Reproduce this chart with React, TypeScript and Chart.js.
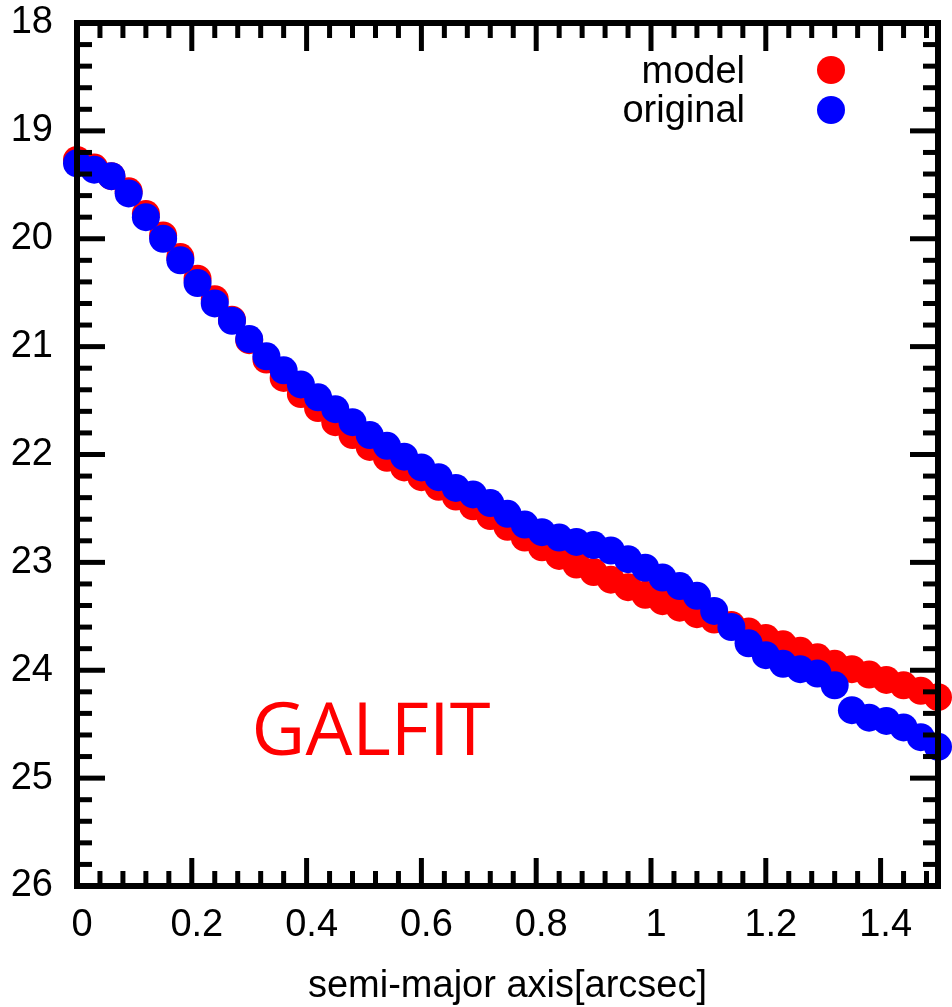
import React, { useEffect, useRef } from 'react';
import { Chart, registerables } from 'chart.js';

Chart.register(...registerables);

// semi-major axis [arcsec]
const xValues = [
  0, 0.03, 0.06, 0.09, 0.12, 0.15, 0.18, 0.21, 0.24, 0.27,
  0.30, 0.33, 0.36, 0.39, 0.42, 0.45, 0.48, 0.51, 0.54, 0.57,
  0.60, 0.63, 0.66, 0.69, 0.72, 0.75, 0.78, 0.81, 0.84, 0.87,
  0.90, 0.93, 0.96, 0.99, 1.02, 1.05, 1.08, 1.11, 1.14, 1.17,
  1.20, 1.23, 1.26, 1.29, 1.32, 1.35, 1.38, 1.41, 1.44, 1.47, 1.50,
];

const modelValues = [
  19.27, 19.34, 19.42, 19.56, 19.77, 19.97, 20.17, 20.37, 20.56, 20.75,
  20.94, 21.12, 21.29, 21.44, 21.57, 21.70, 21.82, 21.93, 22.03, 22.12,
  22.21, 22.30, 22.39, 22.48, 22.57, 22.67, 22.77, 22.86, 22.94, 23.02,
  23.09, 23.16, 23.23, 23.30, 23.36, 23.42, 23.48, 23.53, 23.58, 23.64,
  23.70, 23.76, 23.82, 23.88, 23.94, 23.99, 24.04, 24.09, 24.14, 24.19, 24.25,
];

const originalValues = [
  19.30, 19.36, 19.42, 19.58, 19.80, 20.00, 20.20, 20.41, 20.60, 20.76,
  20.93, 21.09, 21.22, 21.35, 21.47, 21.58, 21.70, 21.82, 21.92, 22.02,
  22.12, 22.21, 22.31, 22.37, 22.45, 22.55, 22.65, 22.72, 22.77, 22.81,
  22.84, 22.89, 22.97, 23.05, 23.14, 23.22, 23.31, 23.45, 23.60, 23.75,
  23.86, 23.94, 23.99, 24.03, 24.14, 24.37, 24.44, 24.47, 24.53, 24.62, 24.71,
];

const xTickValues = [0, 0.2, 0.4, 0.6, 0.8, 1, 1.2, 1.4];
const xMinorTicks = [
  0.04, 0.08, 0.12, 0.16, 0.24, 0.28, 0.32, 0.36, 0.44, 0.48, 0.52, 0.56,
  0.64, 0.68, 0.72, 0.76, 0.84, 0.88, 0.92, 0.96, 1.04, 1.08, 1.12, 1.16,
  1.24, 1.28, 1.32, 1.36, 1.44, 1.48,
];
const yTickValues = [18, 19, 20, 21, 22, 23, 24, 25, 26];
const yMinorTicks = [
  18.2, 18.4, 18.6, 18.8, 19.2, 19.4, 19.6, 19.8, 20.2, 20.4, 20.6, 20.8,
  21.2, 21.4, 21.6, 21.8, 22.2, 22.4, 22.6, 22.8, 23.2, 23.4, 23.6, 23.8,
  24.2, 24.4, 24.6, 24.8, 25.2, 25.4, 25.6, 25.8,
];

const seriesLabels = ['model', 'original'];
const seriesColors = ['#ff0000', '#0000ff'];
const xTitle = 'semi-major axis[arcsec]';
const annotationText = 'GALFIT';

const FONT = '"Liberation Sans", Arial, sans-serif';

const framePlugin = {
  id: 'gnuplotFrame',
  afterDatasetsDraw(chart: any) {
    const { ctx, chartArea, scales } = chart;
    const { left, right, top, bottom } = chartArea;
    const xs = scales.x;
    const ys = scales.y;
    ctx.save();
    ctx.strokeStyle = '#000';
    ctx.lineCap = 'butt';
    ctx.lineWidth = 5;
    const seg = (x1: number, y1: number, x2: number, y2: number) => {
      ctx.beginPath();
      ctx.moveTo(x1, y1);
      ctx.lineTo(x2, y2);
      ctx.stroke();
    };
    const MAJ = 28;
    const MIN = 15;
    xMinorTicks.forEach((v) => {
      const p = xs.getPixelForValue(v);
      seg(p, bottom, p, bottom - MIN);
      seg(p, top, p, top + MIN);
    });
    xTickValues.forEach((v) => {
      const p = xs.getPixelForValue(v);
      seg(p, bottom, p, bottom - MAJ);
      seg(p, top, p, top + MAJ);
    });
    yMinorTicks.forEach((v) => {
      const p = ys.getPixelForValue(v);
      seg(left, p, left + MIN, p);
      seg(right, p, right - MIN, p);
    });
    yTickValues.forEach((v) => {
      const p = ys.getPixelForValue(v);
      seg(left, p, left + MAJ, p);
      seg(right, p, right - MAJ, p);
    });
    ctx.lineWidth = 6;
    ctx.strokeRect(left, top, right - left, bottom - top);

    // legend (gnuplot style: right-aligned text, then marker)
    ctx.font = `38px ${FONT}`;
    ctx.textAlign = 'right';
    ctx.textBaseline = 'alphabetic';
    const legendY = [83, 122];
    const dotY = [70, 110];
    seriesLabels.forEach((lab, i) => {
      ctx.fillStyle = '#000';
      ctx.fillText(lab, 745, legendY[i]);
      ctx.fillStyle = seriesColors[i];
      ctx.beginPath();
      ctx.arc(831, dotY[i], 14, 0, Math.PI * 2);
      ctx.fill();
    });

    // annotation
    ctx.font = `74px "Open Sans", ${FONT}`;
    ctx.fillStyle = '#ff0000';
    ctx.textAlign = 'center';
    ctx.fillText(annotationText, 371, 755);
    ctx.restore();
  },
};

export default function App() {
  const canvasRef = useRef<HTMLCanvasElement | null>(null);

  useEffect(() => {
    const canvas = canvasRef.current;
    if (!canvas) return;
    const chart = new Chart(canvas, {
      type: 'scatter',
      data: {
        datasets: [
          {
            label: seriesLabels[0],
            data: xValues.map((x, i) => ({ x, y: modelValues[i] })),
            backgroundColor: seriesColors[0],
            borderWidth: 0,
            pointRadius: 14,
            pointHoverRadius: 14,
            order: 2,
            clip: false as any,
          },
          {
            label: seriesLabels[1],
            data: xValues.map((x, i) => ({ x, y: originalValues[i] })),
            backgroundColor: seriesColors[1],
            borderWidth: 0,
            pointRadius: 14,
            pointHoverRadius: 14,
            order: 1,
            clip: false as any,
          },
        ],
      },
      options: {
        animation: false,
        responsive: false,
        devicePixelRatio: 1,
        events: [],
        layout: { autoPadding: false, padding: { top: 23, right: 14, left: 0, bottom: 0 } },
        plugins: {
          legend: { display: false },
          tooltip: { enabled: false },
        },
        scales: {
          x: {
            type: 'linear',
            min: 0,
            max: 1.5,
            afterFit: (s: any) => {
              s.height = 121;
              s.paddingLeft = 0;
              s.paddingRight = 0;
              s.paddingTop = 0;
              s.paddingBottom = 0;
            },
            afterBuildTicks: (s: any) => {
              s.ticks = xTickValues.map((v) => ({ value: v }));
            },
            grid: { display: false, drawTicks: false },
            border: { display: false },
            ticks: {
              color: '#000',
              font: { family: FONT, size: 38 },
              padding: 17,
              labelOffset: 5,
              maxRotation: 0,
              autoSkip: false,
              callback: (v: any) => String(v),
            },
            title: {
              display: true,
              text: xTitle,
              color: '#000',
              font: { family: FONT, size: 38 },
              padding: { top: 0, bottom: -2 },
            },
          },
          y: {
            type: 'linear',
            reverse: true,
            min: 18,
            max: 26,
            afterFit: (s: any) => {
              s.width = 77;
              s.paddingLeft = 0;
              s.paddingRight = 0;
              s.paddingTop = 0;
              s.paddingBottom = 0;
            },
            afterBuildTicks: (s: any) => {
              s.ticks = yTickValues.map((v) => ({ value: v }));
            },
            grid: { display: false, drawTicks: false },
            border: { display: false },
            ticks: {
              color: '#000',
              font: { family: FONT, size: 38 },
              padding: 24,
              autoSkip: false,
              callback: (v: any) => String(v),
            },
          },
        },
      },
      plugins: [framePlugin],
    });
    return () => chart.destroy();
  }, []);

  return (
    <div style={{ position: 'absolute', left: 0, top: 0, width: 952, height: 1007, background: '#fff' }}>
      <canvas ref={canvasRef} width={952} height={1007} style={{ width: 952, height: 1007, display: 'block' }} />
    </div>
  );
}
